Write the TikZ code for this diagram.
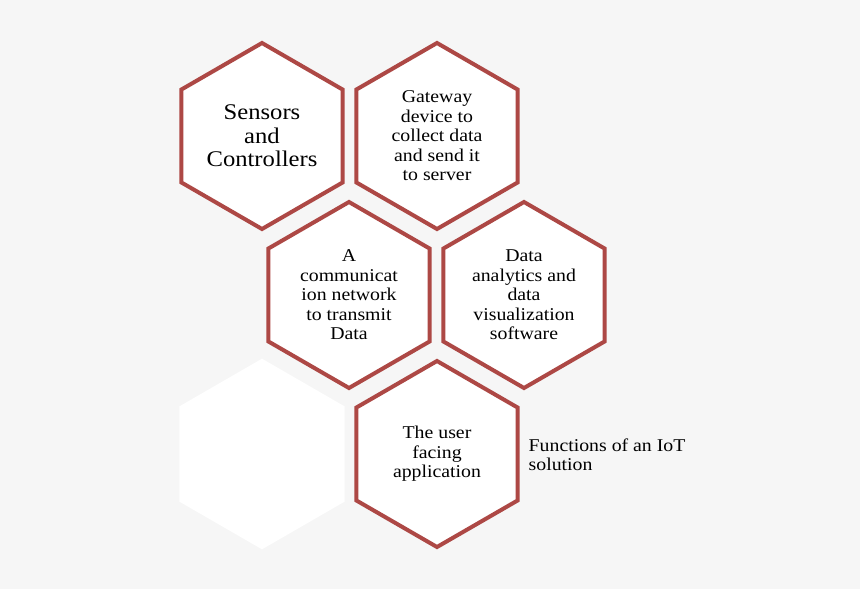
\documentclass[tikz,border=0pt]{standalone}
\usepackage{fontspec}
\setmainfont[FakeStretch=1.1]{Liberation Serif}
\usepackage{xcolor}
\usepackage{tikz}
\usetikzlibrary{shapes.geometric}

\definecolor{hexred}{RGB}{173,72,69}
\definecolor{pagegray}{RGB}{246,246,246}

\begin{document}
\begin{tikzpicture}[
  x=0.75pt, y=-0.75pt,
  hexbox/.style={regular polygon, regular polygon sides=6, shape border rotate=30,
    minimum size=139.5pt, inner sep=0pt, draw=hexred, line width=3pt, fill=white,
    align=center, font=\fontsize{13.5}{14.6}\selectfont},
  blankhex/.style={hexbox, draw=white},
  caption/.style={align=left, anchor=west, font=\fontsize{13.5}{14.6}\selectfont}
]
\fill[pagegray] (0,0) rectangle (860,589);
\useasboundingbox (0,0) rectangle (860,589);

\node[hexbox, font=\fontsize{16.8}{17.6}\selectfont] (sensors) at (262,136) {Sensors\\and\\Controllers};
\node[hexbox] (gateway) at (437,136) {Gateway\\device to\\collect data\\and send it\\to server};
\node[hexbox] (network) at (349,295) {A\\communicat\\ion network\\to transmit\\Data};
\node[hexbox] (analytics) at (524,295) {Data\\analytics and\\data\\visualization\\software};
\node[blankhex] (blank) at (262,454) {};
\node[hexbox] (userapp) at (437,454) {The user\\facing\\application};

\node[caption] (title) at (524,455) {Functions of an IoT\\solution};
\end{tikzpicture}
\end{document}
